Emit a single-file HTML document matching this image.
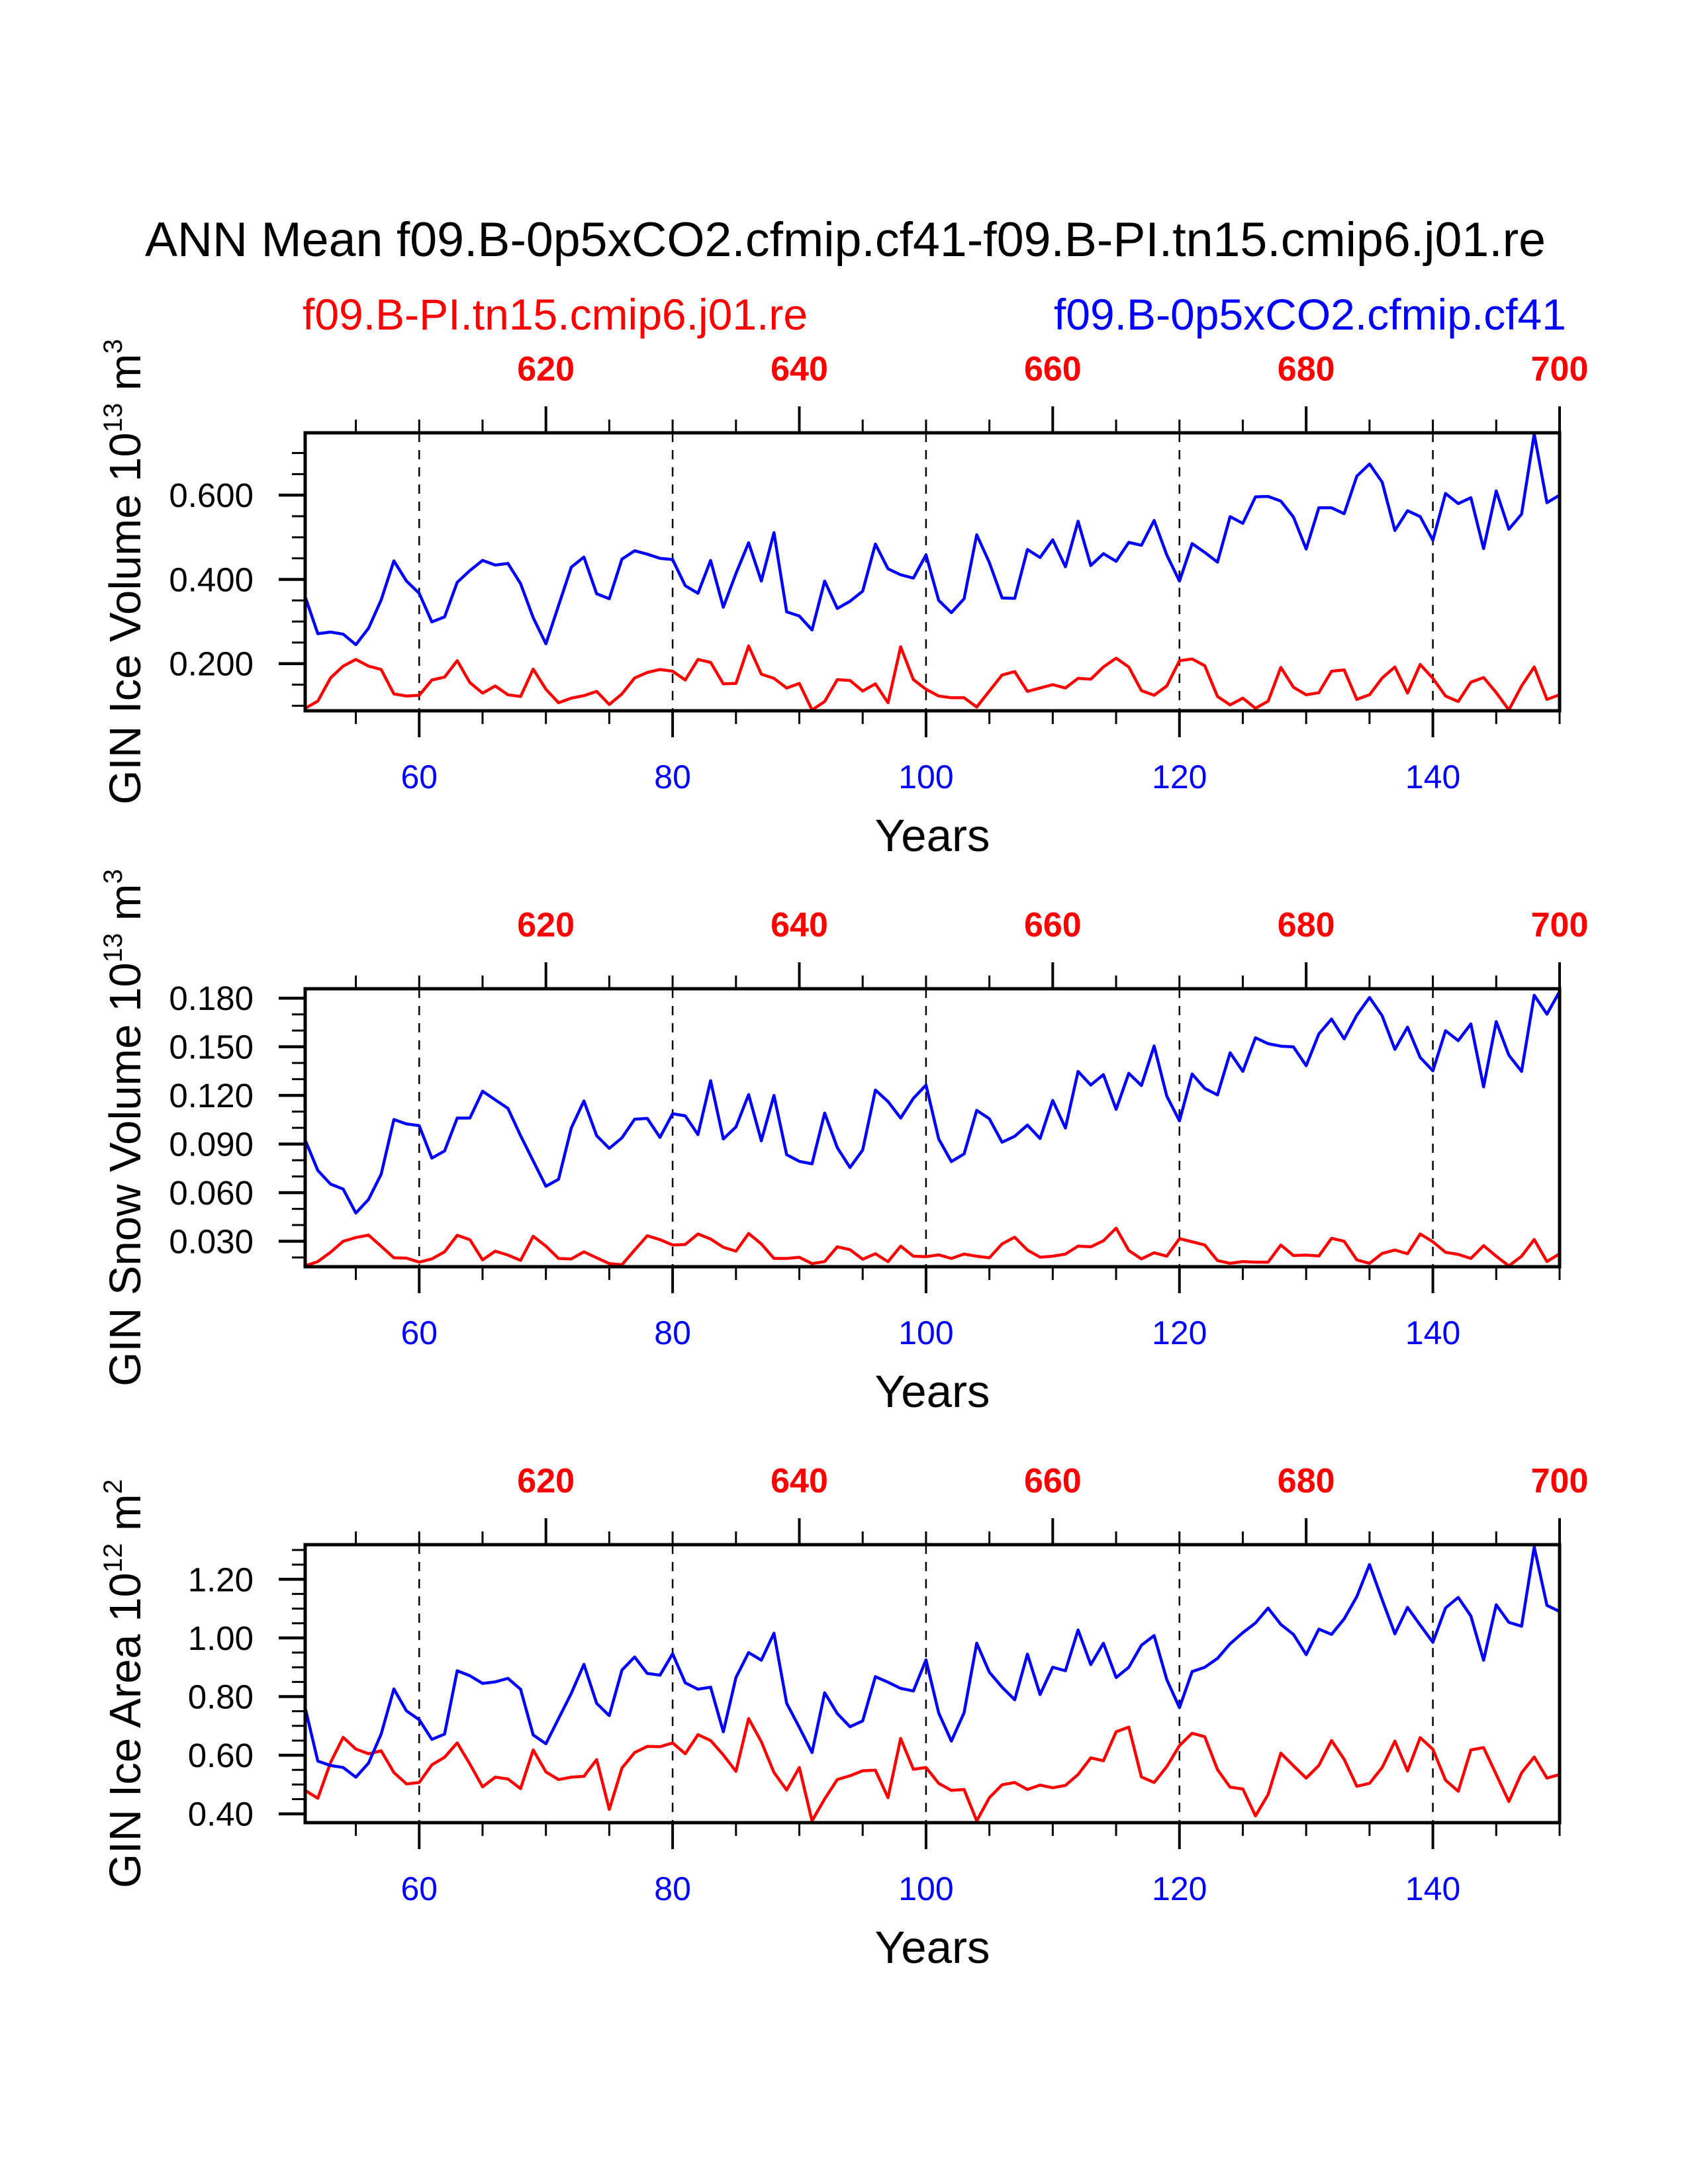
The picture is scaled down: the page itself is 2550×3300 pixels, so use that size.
<!DOCTYPE html>
<html><head><meta charset="utf-8"><style>
html,body{margin:0;padding:0;background:#fff;}
svg{display:block;font-family:"Liberation Sans",Arial,sans-serif;}
</style></head><body>
<svg id="chart" width="2550" height="3300" viewBox="0 0 2550 3300" xmlns="http://www.w3.org/2000/svg">
<rect width="2550" height="3300" fill="#fff"/>
<text x="1277" y="387" font-size="73.5" text-anchor="middle" fill="#000">ANN Mean f09.B-0p5xCO2.cfmip.cf41-f09.B-PI.tn15.cmip6.j01.re</text>
<text x="457" y="498" font-size="66" fill="#ff0000">f09.B-PI.tn15.cmip6.j01.re</text>
<text x="2366" y="498" font-size="66" text-anchor="end" fill="#0000ff">f09.B-0p5xCO2.cfmip.cf41</text>
<g id="plots"></g>
</svg>
<script>
const years = [];
for (let y = 51; y <= 150; y++) years.push(y);
const topOffset = 550;
const bottomTicks = [60, 80, 100, 120, 140];
const topTickLabels = [620, 640, 660, 680, 700];

const iceVolBlue = [0.359,0.271,0.275,0.270,0.245,0.284,0.351,0.444,0.396,0.367,0.299,0.311,0.393,0.421,0.445,0.434,0.438,0.390,0.309,0.247,0.338,0.429,0.453,0.366,0.354,0.448,0.468,0.460,0.450,0.447,0.385,0.367,0.445,0.334,0.414,0.487,0.396,0.511,0.323,0.313,0.280,0.396,0.331,0.348,0.372,0.484,0.425,0.411,0.403,0.458,0.350,0.321,0.354,0.506,0.440,0.356,0.355,0.471,0.452,0.494,0.430,0.538,0.433,0.461,0.443,0.488,0.481,0.540,0.458,0.396,0.485,0.464,0.441,0.549,0.533,0.596,0.597,0.586,0.548,0.472,0.570,0.570,0.556,0.645,0.674,0.631,0.516,0.563,0.549,0.493,0.604,0.580,0.594,0.473,0.610,0.519,0.555,0.745,0.582,0.600];
const iceVolRed = [0.094,0.111,0.166,0.194,0.210,0.194,0.186,0.128,0.123,0.125,0.161,0.168,0.207,0.155,0.130,0.147,0.126,0.122,0.187,0.139,0.107,0.118,0.124,0.134,0.103,0.128,0.166,0.179,0.186,0.182,0.161,0.210,0.203,0.152,0.153,0.242,0.175,0.165,0.142,0.153,0.090,0.110,0.162,0.160,0.135,0.152,0.107,0.240,0.162,0.139,0.123,0.119,0.119,0.097,0.135,0.173,0.181,0.134,0.142,0.150,0.142,0.165,0.163,0.192,0.213,0.192,0.136,0.125,0.147,0.207,0.211,0.195,0.122,0.102,0.118,0.094,0.111,0.191,0.144,0.126,0.131,0.182,0.185,0.115,0.126,0.166,0.192,0.130,0.198,0.165,0.123,0.110,0.156,0.167,0.131,0.090,0.147,0.192,0.115,0.126];
const snowBlue = [0.0925,0.0737,0.0653,0.0622,0.0474,0.0558,0.0714,0.1051,0.1024,0.1013,0.0813,0.0857,0.1060,0.1060,0.1226,0.1173,0.1120,0.0952,0.0796,0.0639,0.0683,0.0999,0.1166,0.0952,0.0873,0.0938,0.1053,0.1058,0.0941,0.1087,0.1074,0.0958,0.1291,0.0931,0.1006,0.1205,0.0920,0.1200,0.0834,0.0793,0.0778,0.1091,0.0877,0.0755,0.0863,0.1233,0.1162,0.1060,0.1182,0.1264,0.0931,0.0792,0.0839,0.1108,0.1056,0.0911,0.0948,0.1017,0.0934,0.1169,0.0999,0.1348,0.1264,0.1328,0.1114,0.1336,0.1261,0.1505,0.1196,0.1043,0.1332,0.1243,0.1203,0.1463,0.1348,0.1556,0.1519,0.1504,0.1499,0.1383,0.1579,0.1671,0.1549,0.1695,0.1804,0.1691,0.1484,0.1621,0.1434,0.1352,0.1599,0.1538,0.1641,0.1253,0.1655,0.1448,0.1348,0.1818,0.1701,0.1841];
const snowRed = [0.0148,0.0175,0.0232,0.0300,0.0323,0.0338,0.0269,0.0198,0.0196,0.0171,0.0191,0.0235,0.0337,0.0310,0.0185,0.0239,0.0215,0.0182,0.0331,0.0270,0.0194,0.0191,0.0235,0.0198,0.0162,0.0155,0.0246,0.0334,0.0310,0.0277,0.0280,0.0345,0.0314,0.0263,0.0239,0.0348,0.0284,0.0194,0.0194,0.0201,0.0162,0.0175,0.0266,0.0248,0.0189,0.0223,0.0174,0.0270,0.0208,0.0205,0.0216,0.0194,0.0221,0.0208,0.0198,0.0284,0.0325,0.0246,0.0202,0.0208,0.0221,0.0270,0.0266,0.0303,0.0381,0.0243,0.0191,0.0229,0.0208,0.0316,0.0297,0.0277,0.0181,0.0164,0.0175,0.0171,0.0171,0.0277,0.0212,0.0215,0.0209,0.0318,0.0300,0.0185,0.0164,0.0225,0.0246,0.0223,0.0345,0.0297,0.0232,0.0219,0.0194,0.0273,0.0208,0.0148,0.0208,0.0311,0.0175,0.0223];
const areaBlue = [0.762,0.580,0.565,0.558,0.525,0.573,0.672,0.826,0.751,0.721,0.654,0.672,0.888,0.871,0.845,0.850,0.862,0.825,0.669,0.639,0.725,0.811,0.910,0.777,0.735,0.890,0.935,0.879,0.873,0.946,0.847,0.825,0.832,0.680,0.865,0.950,0.924,1.016,0.777,0.695,0.609,0.813,0.742,0.697,0.717,0.868,0.849,0.828,0.819,0.925,0.744,0.648,0.745,0.982,0.883,0.832,0.789,0.945,0.807,0.900,0.888,1.027,0.909,0.982,0.865,0.900,0.975,1.008,0.858,0.762,0.885,0.900,0.930,0.980,1.018,1.051,1.102,1.046,1.012,0.943,1.030,1.012,1.065,1.141,1.250,1.130,1.014,1.104,1.044,0.985,1.102,1.138,1.075,0.924,1.113,1.053,1.040,1.310,1.111,1.090];
const areaRed = [0.480,0.453,0.575,0.661,0.621,0.605,0.615,0.541,0.502,0.507,0.567,0.593,0.642,0.570,0.492,0.525,0.519,0.486,0.618,0.543,0.517,0.525,0.528,0.585,0.415,0.556,0.609,0.630,0.629,0.642,0.605,0.670,0.650,0.601,0.545,0.725,0.646,0.541,0.481,0.558,0.376,0.451,0.517,0.530,0.547,0.549,0.455,0.657,0.552,0.558,0.504,0.480,0.483,0.376,0.455,0.499,0.507,0.483,0.498,0.489,0.497,0.534,0.591,0.581,0.680,0.696,0.526,0.507,0.561,0.633,0.675,0.663,0.551,0.491,0.485,0.393,0.466,0.607,0.564,0.522,0.565,0.650,0.586,0.494,0.504,0.558,0.648,0.546,0.660,0.620,0.515,0.477,0.618,0.626,0.534,0.442,0.540,0.594,0.522,0.534];

const iceVolTicks = ["0.200","0.400","0.600"];
const snowTicks = ["0.030","0.060","0.090","0.120","0.150","0.180"];
const areaTicks = ["0.40","0.60","0.80","1.00","1.20"];

const NS = "http://www.w3.org/2000/svg";
const root = document.getElementById("plots");
function mk(tag, attrs, parent) {
  const e = document.createElementNS(NS, tag);
  for (const k in attrs) e.setAttribute(k, attrs[k]);
  (parent || root).appendChild(e);
  return e;
}
const L = 461, R = 2356, H = 420;
const xMin = 51, xMax = 150;
function xs(v) { return L + (v - xMin) / (xMax - xMin) * (R - L); }

const panels = [
  {top: 654, ymin: 0.088, ymax: 0.748, ticks: iceVolTicks, minor: 0.05, blue: iceVolBlue, red: iceVolRed, title: "GIN Ice Volume 10", sup: "13", unit: " m", usup: "3", key: "ice-volume"},
  {top: 1494, ymin: 0.0143, ymax: 0.1858, ticks: snowTicks, minor: 0.01, blue: snowBlue, red: snowRed, title: "GIN Snow Volume 10", sup: "13", unit: " m", usup: "3", key: "snow-volume"},
  {top: 2334, ymin: 0.370, ymax: 1.318, ticks: areaTicks, minor: 0.05, blue: areaBlue, red: areaRed, title: "GIN Ice Area 10", sup: "12", unit: " m", usup: "2", key: "ice-area"}
];

panels.forEach(p => {
  const T = p.top, B = p.top + H;
  const ys = v => B - (v - p.ymin) / (p.ymax - p.ymin) * H;
  const g = mk("g", {});
  
  
  bottomTicks.forEach(t => {
    const l = mk("line", {x1: xs(t), x2: xs(t), y1: T, y2: B, stroke: "#000", "stroke-width": 2.5, "stroke-dasharray": "14 12"}, g);
    
    
  });
  [["red", p.red, "#ff0000"], ["blue", p.blue, "#0000ff"]].forEach(s => {
    const pts = s[1].map((v, i) => xs(years[i]).toFixed(1) + "," + ys(v).toFixed(1)).join(" ");
    const pl = mk("polyline", {points: pts, fill: "none", stroke: s[2], "stroke-width": 4.5, "stroke-linejoin": "round"}, g);
    
    
  });
  const fr = mk("rect", {x: L, y: T, width: R - L, height: H, fill: "none", stroke: "#000", "stroke-width": 5}, g);
  
  
  for (let t = 55; t <= 150; t += 5) {
    const major = t % 20 === 0;
    mk("line", {x1: xs(t), x2: xs(t), y1: B, y2: B + (major ? 40 : 20), stroke: "#000", "stroke-width": major ? 4 : 3}, g);
  }
  bottomTicks.forEach(t => {
    const tx = mk("text", {x: xs(t), y: B + 117, "font-size": 50, "text-anchor": "middle", fill: "#0000ff"}, g);
    tx.textContent = t;
    
    
  });
  for (let t = 55; t <= 150; t += 5) {
    const major = (t + topOffset) % 20 === 0;
    mk("line", {x1: xs(t), x2: xs(t), y1: T, y2: T - (major ? 40 : 20), stroke: "#000", "stroke-width": major ? 4 : 3}, g);
  }
  topTickLabels.forEach(t => {
    const tx = mk("text", {x: xs(t - topOffset), y: T - 79, "font-size": 52, "font-weight": "bold", "text-anchor": "middle", fill: "#ff0000"}, g);
    tx.textContent = t;
    
    
  });
  const start = Math.ceil(p.ymin / p.minor - 1e-6);
  for (let k = start; k * p.minor <= p.ymax + 1e-9; k++) {
    const v = k * p.minor;
    const major = p.ticks.some(s => Math.abs(parseFloat(s) - v) < 1e-6);
    mk("line", {x1: L, x2: L - (major ? 40 : 20), y1: ys(v), y2: ys(v), stroke: "#000", "stroke-width": major ? 4.5 : 3}, g);
  }
  p.ticks.forEach(s => {
    const tx = mk("text", {x: 383, y: ys(parseFloat(s)) + 18, "font-size": 51, "text-anchor": "end", fill: "#000"}, g);
    tx.textContent = s;
    
    
  });
  const yt = mk("text", {transform: "translate(212," + (T + H / 2) + ") rotate(-90)", "font-size": 67, "text-anchor": "middle", fill: "#000"}, g);
  
  
  const a = mk("tspan", {}, yt); a.textContent = p.title;
  const b = mk("tspan", {dy: -28, "font-size": 40}, yt); b.textContent = p.sup;
  const c = mk("tspan", {dy: 28}, yt); c.textContent = p.unit;
  const d = mk("tspan", {dy: -28, "font-size": 40}, yt); d.textContent = p.usup;
  const xt = mk("text", {x: (L + R) / 2, y: B + 212, "font-size": 69, "text-anchor": "middle", fill: "#000"}, g);
  xt.textContent = "Years";
  
  
});
</script>
</body></html>
